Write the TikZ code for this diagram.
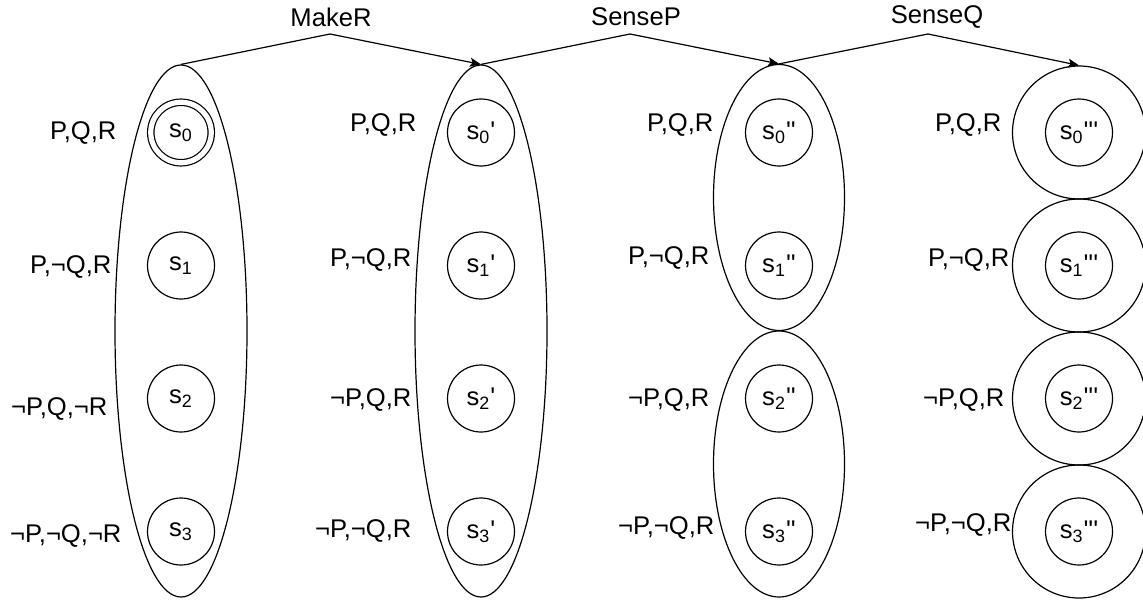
\documentclass[tikz,border=0pt]{standalone}
\usepackage{fontspec}
\setmainfont{Liberation Sans}
\usetikzlibrary{shapes.geometric,arrows.meta}
\newcommand{\pa}{\textquotesingle}
\begin{document}
\begin{tikzpicture}[x=0.5pt,y=-0.5pt,
  font=\fontsize{12.8}{15}\selectfont,
  line width=0.6pt, line join=round,
  state/.style={circle,draw,minimum size=33.5pt,inner sep=0pt},
  initstate/.style={state,double,double distance=2.6pt,minimum size=30.25pt},
  bigstate/.style={circle,draw,minimum size=66.5pt,inner sep=0pt},
  beliefA/.style={ellipse,draw,minimum width=66pt,minimum height=266pt,inner sep=0pt},
  beliefB/.style={ellipse,draw,minimum width=65.5pt,minimum height=133pt,inner sep=0pt},
  lab/.style={anchor=east,inner sep=0pt},
  actlab/.style={inner sep=0pt},
  act/.style={-{Stealth[length=5.5pt,width=4.5pt,inset=1.2pt]}},
]
\useasboundingbox (0,0) rectangle (1143,599);

% belief states
\node[beliefA] (b1) at (181,331) {};
\node[beliefA] (b2) at (481,331) {};
\node[beliefB] (b3a) at (779,197.5) {};
\node[beliefB] (b3b) at (779,464) {};
\node[bigstate] (o0) at (1079,132.5) {};
\node[bigstate] (o1) at (1079,265.5) {};
\node[bigstate] (o2) at (1079,398.5) {};
\node[bigstate] (o3) at (1079,531.5) {};

% world states
\node[initstate] (s0) at (181,132.5) {s\textsubscript{0}};
\node[state] (s1) at (181,265.5) {s\textsubscript{1}};
\node[state] (s2) at (181,398.5) {s\textsubscript{2}};
\node[state] (s3) at (181,531.5) {s\textsubscript{3}};

\node[state] (t0) at (481,132.5) {s\textsubscript{0}\pa};
\node[state] (t1) at (481,265.5) {s\textsubscript{1}\pa};
\node[state] (t2) at (481,398.5) {s\textsubscript{2}\pa};
\node[state] (t3) at (481,531.5) {s\textsubscript{3}\pa};

\node[state] (u0) at (779,132.5) {s\textsubscript{0}\pa\pa};
\node[state] (u1) at (779,265.5) {s\textsubscript{1}\pa\pa};
\node[state] (u2) at (779,398.5) {s\textsubscript{2}\pa\pa};
\node[state] (u3) at (779,531.5) {s\textsubscript{3}\pa\pa};

\node[state] (v0) at (1079,132.5) {s\textsubscript{0}\pa\pa\pa};
\node[state] (v1) at (1079,265.5) {s\textsubscript{1}\pa\pa\pa};
\node[state] (v2) at (1079,398.5) {s\textsubscript{2}\pa\pa\pa};
\node[state] (v3) at (1079,531.5) {s\textsubscript{3}\pa\pa\pa};

% labels
\node[lab] (l10) at (117,133) {P,Q,R};
\node[lab] (l11) at (112,267) {P,¬Q,R};
\node[lab] (l12) at (108,409) {¬P,Q,¬R};
\node[lab] (l13) at (122,536) {¬P,¬Q,¬R};

\node[lab] (l20) at (417,125) {P,Q,R};
\node[lab] (l21) at (412,260) {P,¬Q,R};
\node[lab] (l22) at (412,400) {¬P,Q,R};
\node[lab] (l23) at (412,531) {¬P,¬Q,R};

\node[lab] (l30) at (714,125) {P,Q,R};
\node[lab] (l31) at (710,258) {P,¬Q,R};
\node[lab] (l32) at (710,400) {¬P,Q,R};
\node[lab] (l33) at (715,528) {¬P,¬Q,R};

\node[lab] (l40) at (1002,125) {P,Q,R};
\node[lab] (l41) at (1010,260) {P,¬Q,R};
\node[lab] (l42) at (1005,400) {¬P,Q,R};
\node[lab] (l43) at (1012,525) {¬P,¬Q,R};

% actions
\coordinate (p1) at (330,34);
\coordinate (p2) at (630,34);
\coordinate (p3) at (928,34);
\draw[act] (b1.north) -- (p1) -- (b2.north);
\draw[act] (b2.north) -- (p2) -- (b3a.north);
\draw[act] (b3a.north) -- (p3) -- (o0.north);
\node[actlab] (a1) at (331,17) {MakeR};
\node[actlab] (a2) at (636,17) {SenseP};
\node[actlab] (a3) at (937,17) {SenseQ};
\end{tikzpicture}
\end{document}
